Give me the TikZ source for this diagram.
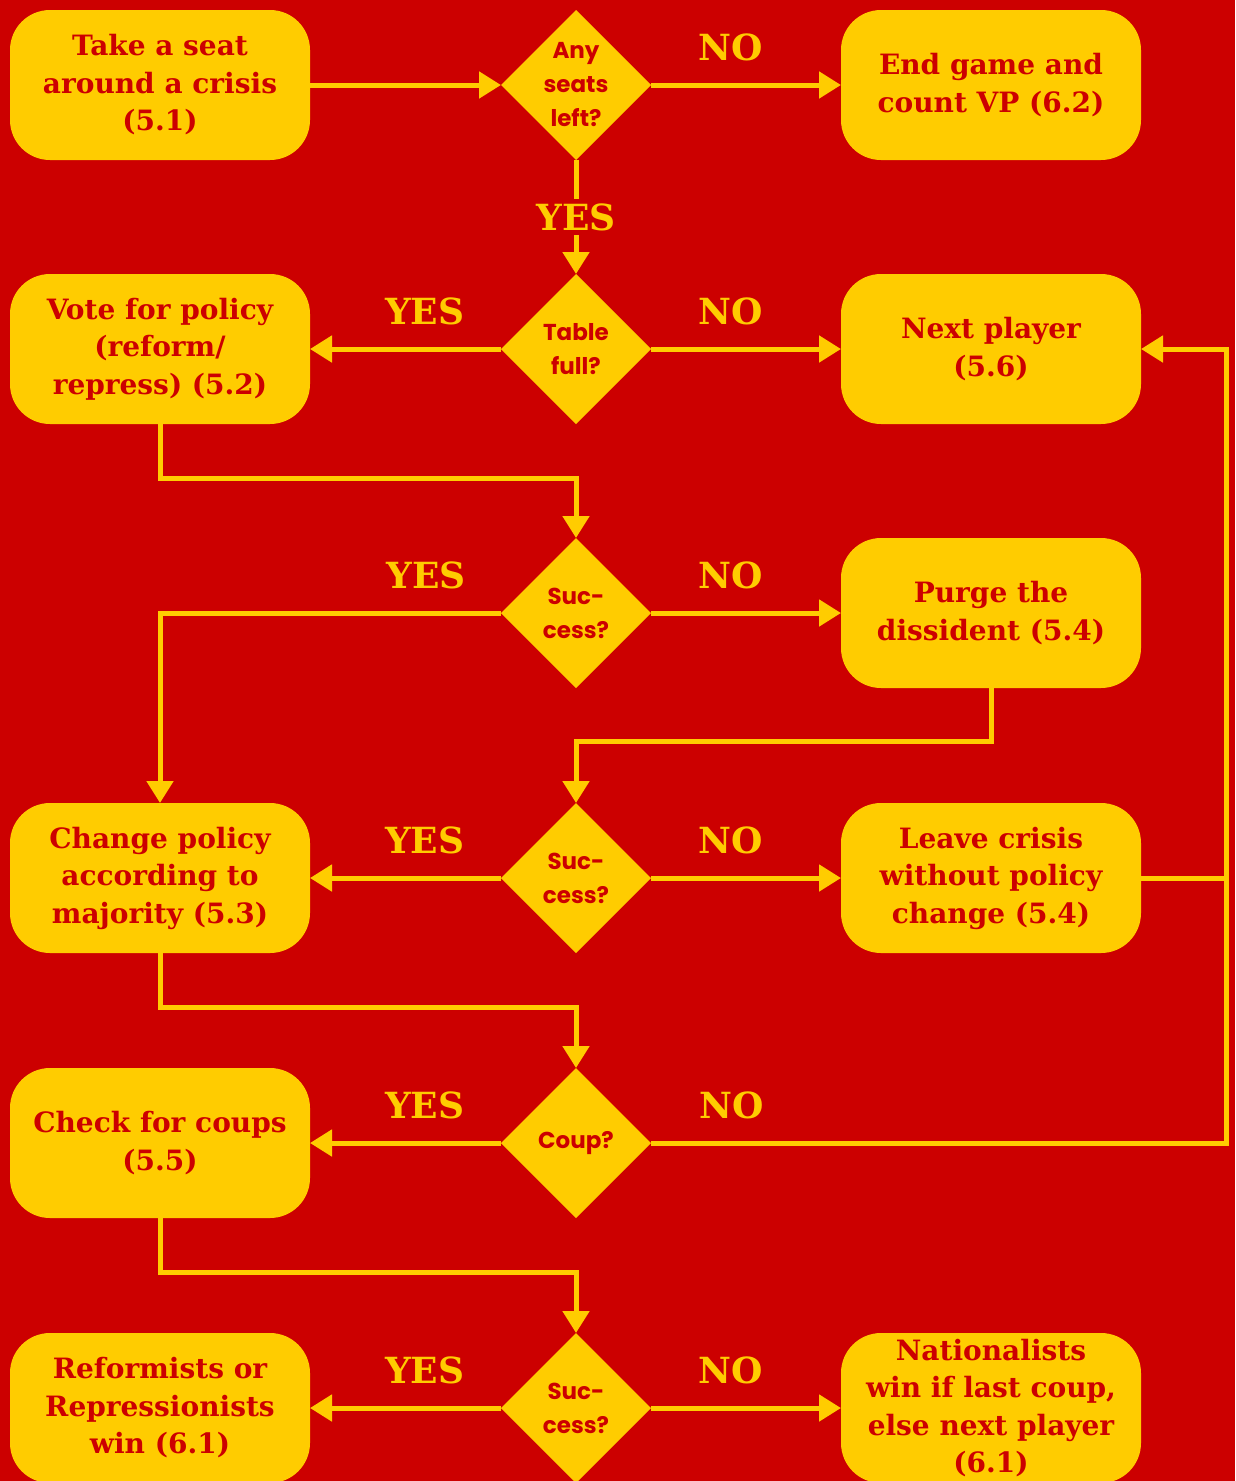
\documentclass[tikz,border=0pt]{standalone}
\usepackage{fontspec}
\usetikzlibrary{shapes.geometric,arrows.meta}
\newfontfamily\slabfont{DejaVu Serif}[BoldFont={DejaVu Serif Bold}]
\newfontfamily\decfont{Poppins}[BoldFont={Poppins Bold}]
\definecolor{bgred}{RGB}{204,0,0}
\definecolor{fyellow}{RGB}{255,204,0}
\tikzset{
  box/.style={fill=fyellow, rounded corners=40pt, minimum width=300pt, minimum height=150pt,
    inner sep=0pt, outer sep=0pt, align=center, text=bgred,
    font=\slabfont\bfseries\fontsize{28}{37.5}\selectfont},
  dia/.style={diamond, fill=fyellow, minimum width=150pt, minimum height=150pt, inner sep=0pt, outer sep=0pt},
  dtext/.style={align=center, text=bgred, inner sep=0pt, font=\decfont\bfseries\fontsize{23}{34}\selectfont},
  arr/.style={draw=fyellow, line width=5pt, -{Triangle[length=22pt,width=26pt]}},
  ln/.style={draw=fyellow, line width=5pt},
  lab/.style={text=fyellow, inner sep=3pt, font=\slabfont\bfseries\fontsize{36}{40}\selectfont},
  yeslab/.style={lab, pos=0.4, yshift=38pt},
  nolab/.style={lab, pos=0.42, yshift=38pt}
}
\begin{document}
\begin{tikzpicture}[x=1pt, y=-1pt]
\useasboundingbox (0,0) rectangle (1235,1481);
\fill[bgred] (0,0) rectangle (1235,1481);
\begin{scope}
\clip (0,0) rectangle (1235,1481);
% left column boxes
\node[box] (b1) at (160,85) {Take a seat\\around a crisis\\(5.1)};
\node[box] (b2) at (160,349) {Vote for policy\\(reform/\\repress) (5.2)};
\node[box] (b4) at (160,878) {Change policy\\according to\\majority (5.3)};
\node[box] (b5) at (160,1143) {Check for coups\\(5.5)};
\node[box] (b6) at (160,1408) {Reformists or\\Repressionists\\win (6.1)};
% right column boxes
\node[box] (r1) at (991,85) {End game and\\count VP (6.2)};
\node[box] (r2) at (991,349) {Next player\\(5.6)};
\node[box] (r3) at (991,613) {Purge the\\dissident (5.4)};
\node[box] (r4) at (991,878) {Leave crisis\\without policy\\change (5.4)};
\node[box] (r6) at (991,1408) {Nationalists\\win if last coup,\\else next player\\(6.1)};
% decisions
\node[dia, label={[dtext]center:Any\\seats\\left?}] (d1) at (576,85) {};
\node[dia, label={[dtext]center:Table\\full?}] (d2) at (576,349) {};
\node[dia, label={[dtext]center:Suc-\\cess?}] (d3) at (576,613) {};
\node[dia, label={[dtext]center:Suc-\\cess?}] (d4) at (576,878) {};
\node[dia, label={[dtext]center:Coup?}] (d5) at (576,1143) {};
\node[dia, label={[dtext]center:Suc-\\cess?}] (d6) at (576,1408) {};
\coordinate (rr) at (1226,878);
% connectors
\draw[arr] (b1.east) -- (d1.west);
\draw[arr] (d1.east) -- node[nolab]{NO} (r1.west);
\draw[arr] (d1.south) -- node[lab, fill=bgred, inner sep=4pt]{YES} (d2.north);
\draw[arr] (d2.west) -- node[yeslab]{YES} (b2.east);
\draw[arr] (d2.east) -- node[nolab]{NO} (r2.west);
\draw[arr] (b2.south) -- ++(0,54) -| (d3.north);
\draw[arr] (d3.west) -| node[lab, pos=0.11, yshift=38pt]{YES} (b4.north);
\draw[arr] (d3.east) -- node[nolab]{NO} (r3.west);
\draw[arr] (r3.south) -- ++(0,53) -| (d4.north);
\draw[arr] (d4.west) -- node[yeslab]{YES} (b4.east);
\draw[arr] (d4.east) -- node[nolab]{NO} (r4.west);
\draw[arr] (r4.east) -- (rr) |- (r2.east);
\draw[arr] (b4.south) -- ++(0,54) -| (d5.north);
\draw[arr] (d5.west) -- node[yeslab]{YES} (b5.east);
\draw[ln] (d5.east) -| node[lab, pos=0.07, yshift=38pt]{NO} (rr);
\draw[arr] (b5.south) -- ++(0,54) -| (d6.north);
\draw[arr] (d6.west) -- node[yeslab]{YES} (b6.east);
\draw[arr] (d6.east) -- node[nolab]{NO} (r6.west);
\end{scope}
\end{tikzpicture}
\end{document}
